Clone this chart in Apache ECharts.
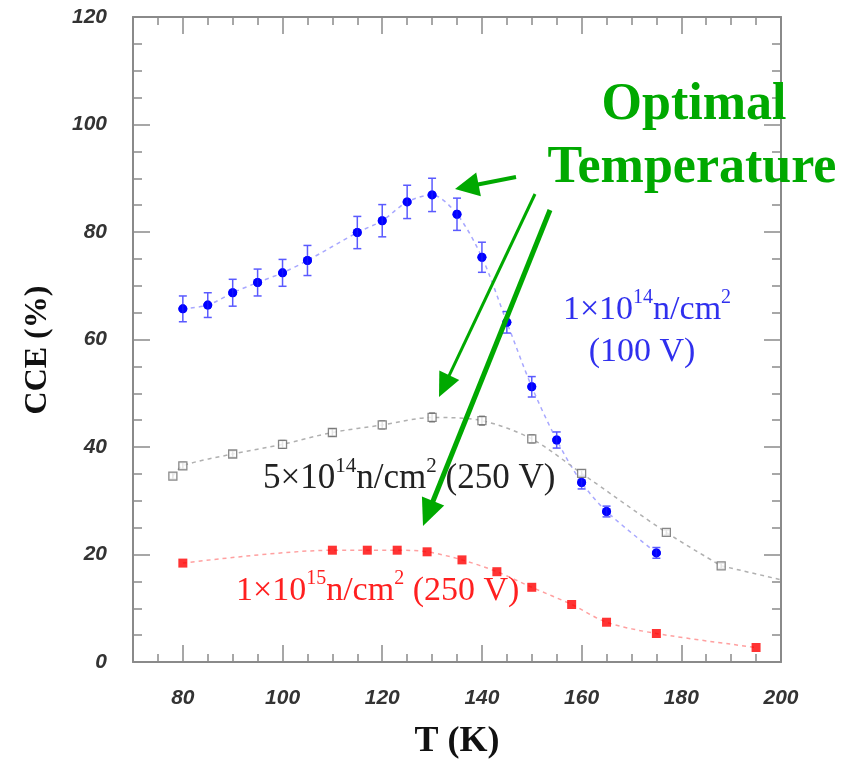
<!DOCTYPE html>
<html>
<head>
<meta charset="utf-8">
<script src="https://cdn.jsdelivr.net/npm/echarts@6/dist/echarts.min.js"></script>
<style>html,body{margin:0;padding:0;background:#fff;}#c{width:850px;height:767px;}</style>
</head>
<body>
<div id="c"></div>
<script>
// ---- data ----
const blueT   = [80, 85, 90, 95, 100, 105, 115, 120, 125, 130, 135, 140, 145, 150, 155, 160, 165, 175];
const blueV   = [65.7, 66.4, 68.7, 70.6, 72.4, 74.7, 79.9, 82.1, 85.6, 86.9, 83.3, 75.3, 63.2, 51.2, 41.3, 33.4, 28.0, 20.3];
const blueErr = [2.4, 2.3, 2.5, 2.5, 2.5, 2.8, 3.0, 3.0, 3.1, 3.1, 3.0, 2.8, 2.0, 1.9, 1.5, 1.2, 1.0, 1.0];

const grayT   = [78, 80, 90, 100, 110, 120, 130, 140, 150, 160, 177, 188];
const grayV   = [34.6, 36.5, 38.7, 40.5, 42.7, 44.1, 45.5, 44.9, 41.5, 35.1, 24.1, 17.9];
const grayErr = [0.6, 0.6, 0.6, 0.7, 0.7, 0.7, 0.8, 0.8, 0.7, 0.6, 0.5, 0.5];
const grayFitT = [188, 200];
const grayFitV = [17.9, 15.3];

const redT    = [80, 110, 117, 123, 129, 136, 143, 150, 158, 165, 175, 195];
const redV    = [18.4, 20.8, 20.8, 20.8, 20.5, 19.0, 16.8, 13.9, 10.7, 7.4, 5.3, 2.7];

const xLabelValues = [80, 100, 120, 140, 160, 180, 200];
const yLabelValues = [0, 20, 40, 60, 80, 100, 120];
const xMajor = [80, 100, 120, 140, 160, 180];
const yMajor = [20, 40, 60, 80, 100];

// ---- helpers ----
const zip = (a, b, c) => a.map((v, i) => c ? [v, b[i], c[i]] : [v, b[i]]);
const axisColor = '#8a8a8a';
const labelStyle = {fontFamily: 'Liberation Sans', fontStyle: 'italic', fontWeight: 'bold', fontSize: 21, color: '#333'};

function errBars(data, color, cap) {
  return {
    type: 'custom', xAxisIndex: 0, yAxisIndex: 0, z: 3, data: data,
    renderItem: function (params, api) {
      const x = api.value(0), y = api.value(1), e = api.value(2);
      const t = api.coord([x, y + e]), b = api.coord([x, y - e]);
      const st = {stroke: color, lineWidth: 1.5};
      return {type: 'group', children: [
        {type: 'line', shape: {x1: t[0], y1: t[1], x2: b[0], y2: b[1]}, style: st},
        {type: 'line', shape: {x1: t[0] - cap, y1: t[1], x2: t[0] + cap, y2: t[1]}, style: st},
        {type: 'line', shape: {x1: b[0] - cap, y1: b[1], x2: b[0] + cap, y2: b[1]}, style: st}
      ]};
    }
  };
}

function arrow(x1, y1, x2, y2, w, len, hw, color) {
  const dx = x2 - x1, dy = y2 - y1, L = Math.hypot(dx, dy);
  const ux = dx / L, uy = dy / L, nx = -uy, ny = ux;
  const bx = x2 - ux * len, by = y2 - uy * len;
  return [
    {type: 'line', z: 20, shape: {x1: x1, y1: y1, x2: bx + ux * 2, y2: by + uy * 2}, style: {stroke: color, lineWidth: w}},
    {type: 'polygon', z: 20, shape: {points: [[x2, y2], [bx + nx * hw, by + ny * hw], [bx - nx * hw, by - ny * hw]]}, style: {fill: color}}
  ];
}

function xAx(pos, tickVals, len, showLine, labels) {
  return {
    type: 'value', min: 70, max: 200, interval: 5, position: pos, gridIndex: 0,
    axisLine: {show: showLine, onZero: false, lineStyle: {color: axisColor, width: 2}},
    axisTick: tickVals ? {show: true, inside: true, length: len, customValues: tickVals, lineStyle: {color: axisColor, width: 1.5}}
                       : {show: true, inside: true, length: len, lineStyle: {color: axisColor, width: 1.5}},
    axisLabel: labels ? Object.assign({show: true, margin: 26, formatter: v => xLabelValues.includes(v) ? String(v) : ''}, labelStyle) : {show: false},
    splitLine: {show: false}
  };
}
function yAx(pos, tickVals, len, showLine, labels) {
  return {
    type: 'value', min: 0, max: 120, interval: 5, position: pos, gridIndex: 0,
    axisLine: {show: showLine, onZero: false, lineStyle: {color: axisColor, width: 2}},
    axisTick: tickVals ? {show: true, inside: true, length: len, customValues: tickVals, lineStyle: {color: axisColor, width: 1.5}}
                       : {show: true, inside: true, length: len, lineStyle: {color: axisColor, width: 1.5}},
    axisLabel: labels ? Object.assign({show: true, margin: 26, formatter: v => yLabelValues.includes(v) ? String(v) : ''}, labelStyle) : {show: false},
    splitLine: {show: false}
  };
}

const green = '#00a900';
const serif = 'Liberation Serif';
const richBase = (size, color) => ({
  n: {fontSize: size, fontFamily: serif, fill: color, lineHeight: Math.round(size * 1.3)},
  s: {fontSize: Math.round(size * 0.6), fontFamily: serif, fill: color, verticalAlign: 'top', lineHeight: Math.round(size * 0.6)}
});

const graphics = [
  {type: 'text', z: 10, x: 38, y: 350, rotation: Math.PI / 2,
   style: {text: 'CCE (%)', fontFamily: serif, fontWeight: 'bold', fontSize: 32, fill: '#111', align: 'center', verticalAlign: 'middle'}},
  {type: 'text', z: 10, x: 457, y: 742,
   style: {text: 'T (K)', fontFamily: serif, fontWeight: 'bold', fontSize: 36, fill: '#111', align: 'center', verticalAlign: 'middle'}},
  {type: 'text', z: 10, x: 694, y: 106,
   style: {text: 'Optimal', fontFamily: serif, fontWeight: 'bold', fontSize: 52, fill: green, align: 'center', verticalAlign: 'middle'}},
  {type: 'text', z: 10, x: 692, y: 169,
   style: {text: 'Temperature', fontFamily: serif, fontWeight: 'bold', fontSize: 52, fill: green, align: 'center', verticalAlign: 'middle'}},
  {type: 'text', z: 10, x: 647, y: 310,
   style: {text: '{n|1×10}{s|14}{n|n/cm}{s|2}', rich: richBase(34, '#3030ee'), align: 'center', verticalAlign: 'middle'}},
  {type: 'text', z: 10, x: 642, y: 352,
   style: {text: '{n|(100 V)}', rich: richBase(34, '#3030ee'), align: 'center', verticalAlign: 'middle'}},
  {type: 'text', z: 10, x: 263, y: 479,
   style: {text: '{n|5×10}{s|14}{n|n/cm}{s|2}{n| (250 V)}', rich: richBase(35, '#222222'), align: 'left', verticalAlign: 'middle'}},
  {type: 'text', z: 10, x: 236, y: 591,
   style: {text: '{n|1×10}{s|15}{n|n/cm}{s|2}{n| (250 V)}', rich: richBase(34, '#ff2020'), align: 'left', verticalAlign: 'middle'}}
].concat(
  arrow(516, 177, 455, 189, 4, 24, 12, green),
  arrow(535, 194, 439, 397, 3, 24, 11, green),
  arrow(550, 210, 423, 526, 5, 27, 12, green)
);

const chart = echarts.init(document.getElementById('c'), null, {renderer: 'canvas'});
chart.setOption({
  animation: false,
  backgroundColor: '#ffffff',
  grid: {left: 133, right: 69, top: 17, bottom: 105, containLabel: false},
  xAxis: [
    xAx('bottom', null, 8, true, true),
    xAx('bottom', xMajor, 17, false, false),
    xAx('top', null, 8, true, false),
    xAx('top', xMajor, 17, false, false)
  ],
  yAxis: [
    yAx('left', null, 9, true, true),
    yAx('left', yMajor, 17, false, false),
    yAx('right', null, 9, true, false),
    yAx('right', yMajor, 17, false, false)
  ],
  series: [
    {type: 'line', xAxisIndex: 0, yAxisIndex: 0, data: zip(blueT, blueV), smooth: 0.3, z: 2,
     lineStyle: {color: '#a8a8ff', width: 1.5, type: [4, 4]},
     symbol: 'circle', symbolSize: 9, itemStyle: {color: '#0000ff'}, showSymbol: true},
    errBars(zip(blueT, blueV, blueErr), '#5a5aff', 4),
    {type: 'scatter', xAxisIndex: 0, yAxisIndex: 0, data: zip(blueT, blueV), z: 5,
     symbol: 'circle', symbolSize: 9, itemStyle: {color: '#0000ff'}},

    {type: 'line', xAxisIndex: 0, yAxisIndex: 0, data: zip(grayT, grayV), smooth: 0.3, z: 2,
     lineStyle: {color: '#b0b0b0', width: 1.5, type: [4, 4]}, showSymbol: false, symbol: 'none'},
    {type: 'line', xAxisIndex: 0, yAxisIndex: 0, data: zip(grayFitT, grayFitV), z: 2,
     lineStyle: {color: '#b0b0b0', width: 1.5, type: [4, 4]}, showSymbol: false, symbol: 'none'},
    errBars(zip(grayT, grayV, grayErr), '#777', 3),
    {type: 'scatter', xAxisIndex: 0, yAxisIndex: 0, data: zip(grayT, grayV), z: 5,
     symbol: 'rect', symbolSize: 8, itemStyle: {color: '#ffffff', borderColor: '#6a6a6a', borderWidth: 1.3}},

    {type: 'line', xAxisIndex: 0, yAxisIndex: 0, data: zip(redT, redV), smooth: 0.3, z: 2,
     lineStyle: {color: '#ffa0a0', width: 1.5, type: [4, 4]}, showSymbol: false, symbol: 'none'},
    {type: 'scatter', xAxisIndex: 0, yAxisIndex: 0, data: zip(redT, redV), z: 5,
     symbol: 'rect', symbolSize: 9, itemStyle: {color: '#ff0000'}}
  ],
  graphic: graphics
});
</script>
</body>
</html>
